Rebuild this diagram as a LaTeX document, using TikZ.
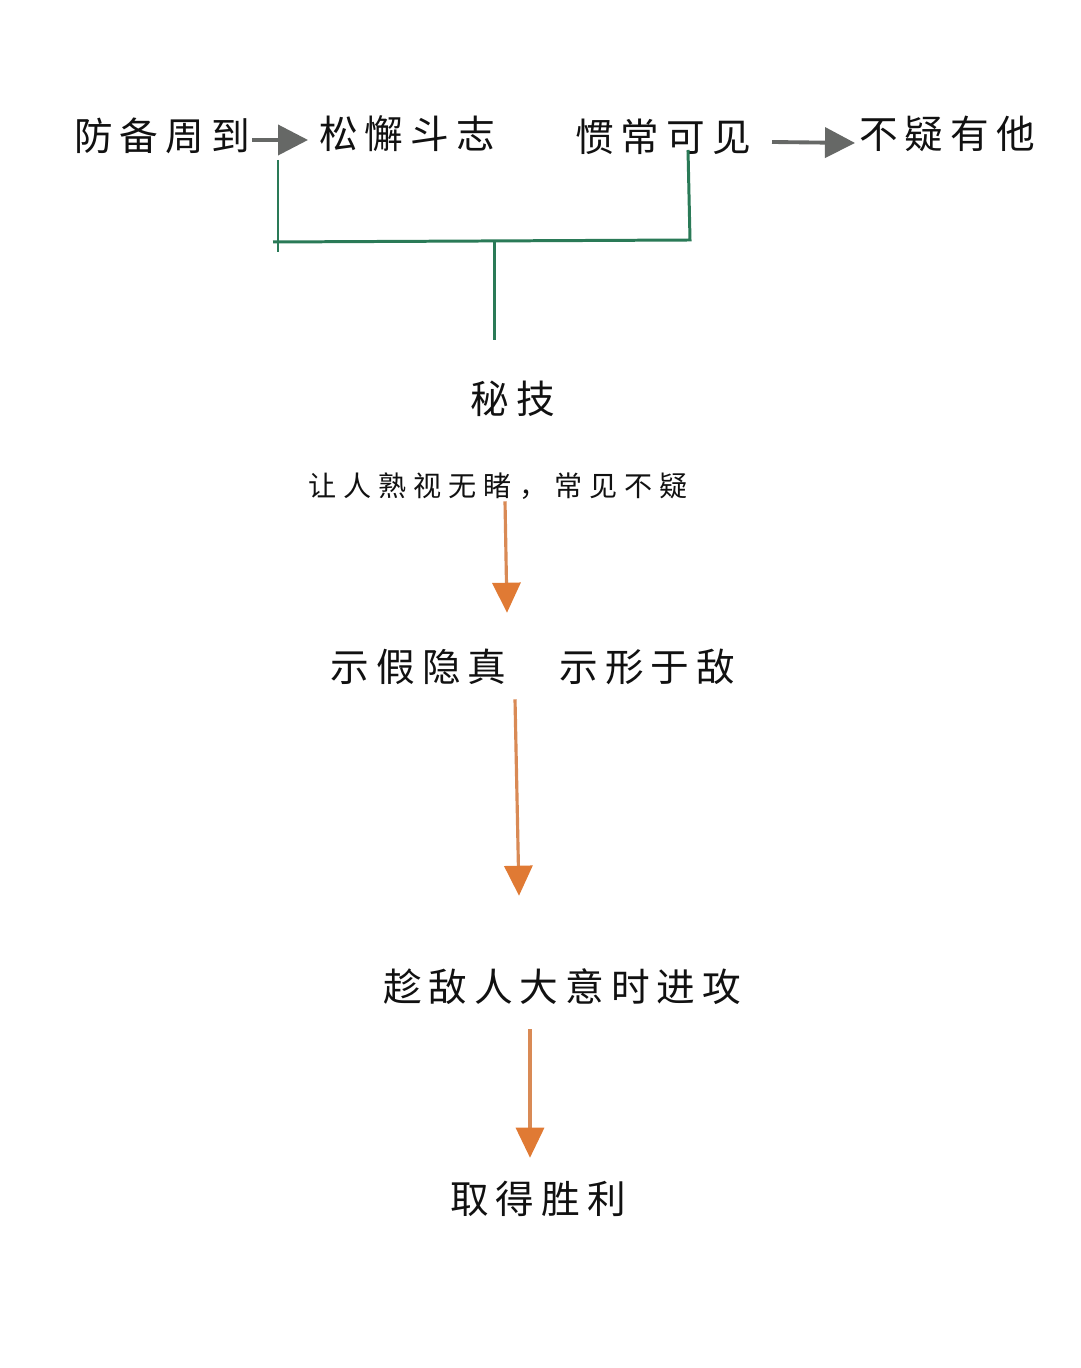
\documentclass[tikz,border=0pt]{standalone}
\usepackage{fontspec}
\usetikzlibrary{arrows.meta,calc}
\newfontfamily\cjkbig{Noto Sans CJK SC}[LetterSpace=18]
\newfontfamily\cjksmall{Noto Sans CJK SC}[LetterSpace=25]
\definecolor{Ink}{HTML}{111111}
\definecolor{Slate}{HTML}{666866}
\definecolor{Pine}{HTML}{2A7A57}
\definecolor{Peach}{HTML}{D98A55}
\definecolor{Amber}{HTML}{E07A34}

\begin{document}
\begin{tikzpicture}[
  x=0.1mm,y=-0.1mm,
  phrase/.style={inner sep=0pt,text height=0.88em,text depth=0.12em,text=Ink,font=\cjkbig\fontsize{11pt}{13pt}\selectfont},
  note/.style={inner sep=0pt,text height=0.88em,text depth=0.12em,text=Ink,font=\cjksmall\fontsize{8pt}{10pt}\selectfont},
  grayarrow/.style={-{Triangle[length=3mm,width=3mm]},line width=1.1pt,draw=Slate},
  orangearrow/.style={-{Triangle[length=3mm,width=2.8mm,color=Amber]},line width=0.9pt,draw=Peach},
  bracket/.style={line width=0.85pt,draw=Pine}
]
\useasboundingbox[fill=white] (0,0) rectangle (1080,1368);
\node[phrase] (guard) at (162,137) {防备周到};
\node[phrase] (slack) at (407,135) {松懈斗志};
\node[phrase] (usual) at (663,138) {惯常可见};
\node[phrase] (trust) at (947,135) {不疑有他};
\node[phrase] (skill) at (513,400) {秘技};
\node[note] (habit) at (498,483) {让人熟视无睹，常见不疑};
\node[phrase] (feint) at (533,668) {示假隐真\hspace{5.3mm}示形于敌};
\node[phrase] (strike) at (562,988) {趁敌人大意时进攻};
\node[phrase] (win) at (538,1200) {取得胜利};
% bracket joining the two top pairs
\coordinate (lt) at (278,160);
\coordinate (lb) at (278,252);
\coordinate (hl) at (273,242);
\coordinate (hr) at (690,240);
\coordinate (rt) at (688,150);
\coordinate (jm) at (494,241);
\coordinate (st) at (494,340);
\draw[grayarrow] ($(guard)+(90,3)$) -- ($(slack)+(-99,5)$);
\draw[grayarrow] ($(usual)+(109,4)$) -- ($(trust)+(-92,8)$);
\draw[bracket] (lt) -- (lb);
\draw[bracket] (hl) -- (hr) -- (rt);
\draw[bracket] (jm) -- (st);
\draw[orangearrow] ($(habit.south)+(7,0)$) -- ($(feint.north)+(-26,-37)$);
\draw[orangearrow] ($(feint.south)+(-18,13)$) -- ($(strike.north)+(-43,-74)$);
\draw[orangearrow] ($(strike.south)+(-32,23)$) -- ($(win.north)+(-8,-24)$);
\end{tikzpicture}
\end{document}
